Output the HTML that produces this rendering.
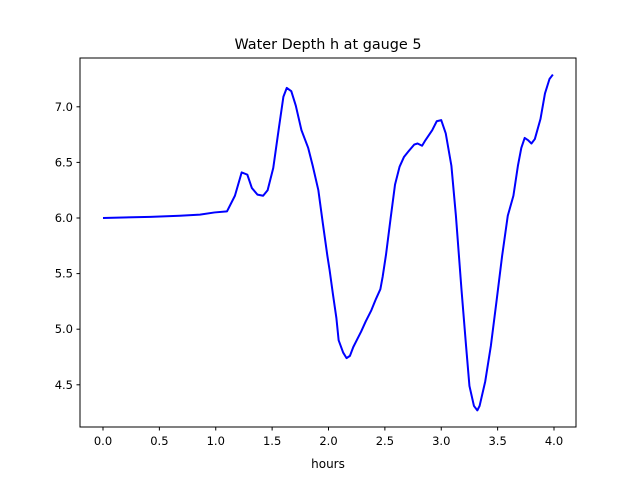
<!DOCTYPE html>
<html><head><meta charset="utf-8"><style>
body{margin:0;background:#fff}
svg{display:block;font-family:"DejaVu Sans","Liberation Sans",sans-serif}
</style></head><body>
<svg width="640" height="480">
<rect width="640" height="480" fill="#fff"/>
<text x="328" y="49" text-anchor="middle" font-size="14.4">Water Depth h at gauge 5</text>
<g id="axes"></g>
<polyline id="series" fill="none" stroke="#0000ff" stroke-width="2" stroke-linejoin="round"/>
<rect x="80" y="58" width="496" height="369" fill="none" stroke="#000" stroke-width="1"/>
<text x="328" y="468" text-anchor="middle" font-size="12">hours</text>
</svg>
<script>
const hours=[0,0.42,0.68,0.86,0.99,1.10,1.17,1.23,1.28,1.32,1.37,1.42,1.46,1.51,1.56,1.60,1.63,1.67,1.71,1.76,1.82,1.86,1.91,1.95,1.99,2.01,2.04,2.07,2.09,2.13,2.16,2.19,2.22,2.25,2.29,2.33,2.38,2.42,2.46,2.48,2.51,2.55,2.59,2.63,2.67,2.71,2.76,2.79,2.83,2.86,2.92,2.96,3.00,3.04,3.09,3.13,3.18,3.22,3.25,3.29,3.32,3.34,3.39,3.44,3.49,3.54,3.59,3.64,3.68,3.71,3.74,3.77,3.80,3.83,3.88,3.92,3.96,3.99];
const depth=[6.00,6.01,6.02,6.03,6.05,6.06,6.20,6.41,6.39,6.27,6.21,6.20,6.25,6.45,6.81,7.09,7.17,7.14,7.01,6.79,6.63,6.47,6.25,5.95,5.66,5.53,5.31,5.10,4.90,4.79,4.74,4.76,4.84,4.90,4.98,5.07,5.17,5.27,5.36,5.47,5.67,5.99,6.30,6.46,6.55,6.60,6.66,6.67,6.65,6.70,6.79,6.87,6.88,6.76,6.47,6.02,5.35,4.85,4.49,4.31,4.27,4.31,4.53,4.85,5.25,5.66,6.02,6.20,6.47,6.63,6.72,6.70,6.67,6.71,6.89,7.12,7.25,7.29];
const xTicks=[0,0.5,1,1.5,2,2.5,3,3.5,4];
const yTicks=[4.5,5.0,5.5,6.0,6.5,7.0];
const X=v=>103+v*112.75;
const Y=v=>218-(v-6)*111.2;
const NS="http://www.w3.org/2000/svg";
const g=document.getElementById('axes');
function mk(t,a){const e=document.createElementNS(NS,t);for(const k in a)e.setAttribute(k,a[k]);g.appendChild(e);return e;}
xTicks.forEach(v=>{
 const l=mk('line',{x1:X(v),x2:X(v),y1:427,y2:430.5,stroke:'#000'});
 
 
 const t=mk('text',{x:X(v),y:445,'text-anchor':'middle','font-size':'11.5'});
 t.textContent=v.toFixed(1);
 
 
});
yTicks.forEach(v=>{
 const l=mk('line',{x1:76.5,x2:80,y1:Y(v),y2:Y(v),stroke:'#000'});
 
 
 const t=mk('text',{x:73,y:Y(v)+4,'text-anchor':'end','font-size':'11.5'});
 t.textContent=v.toFixed(1);
 
 
});
document.getElementById('series').setAttribute('points',hours.map((h,i)=>X(h)+','+Y(depth[i])).join(' '));
</script>
</body></html>
